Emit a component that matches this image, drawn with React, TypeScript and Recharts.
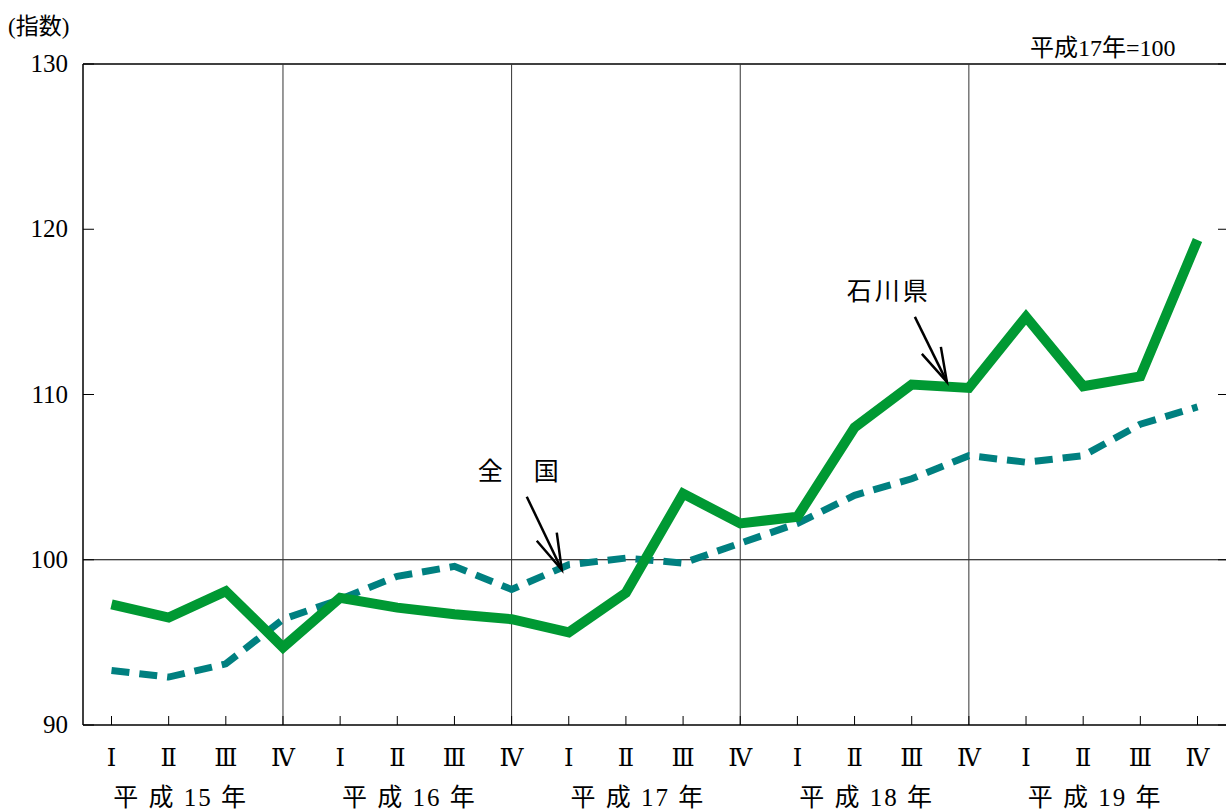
import React from "react";
import {
  LineChart,
  Line,
  XAxis,
  YAxis,
  ReferenceLine,
  ReferenceDot,
} from "recharts";

const quarters = ["Ⅰ", "Ⅱ", "Ⅲ", "Ⅳ"];
const years = ["15", "16", "17", "18", "19"];
const yTicks = [90, 100, 110, 120, 130];

// 石川県
const ishikawa = [
  97.3, 96.5, 98.1, 94.7, 97.7, 97.1, 96.7, 96.4, 95.6, 98.0,
  104.0, 102.2, 102.6, 108.0, 110.6, 110.4, 114.7, 110.5, 111.1, 119.35,
];
// 全国
const zenkoku = [
  93.3, 92.9, 93.7, 96.4, 97.6, 99.0, 99.6, 98.2, 99.7, 100.1,
  99.8, 101.0, 102.2, 103.9, 104.9, 106.3, 105.9, 106.3, 108.2, 109.25,
];

const data = years.flatMap((y, yi) =>
  quarters.map((q, qi) => ({
    key: `H${y}-${qi + 1}`,
    year: y,
    q,
    qi,
    ishikawa: ishikawa[yi * 4 + qi],
    zenkoku: zenkoku[yi * 4 + qi],
  }))
);

const W = 1226;
const H = 811;
const LEFT = 83;

const serif = "'Liberation Serif', 'DejaVu Serif', 'Noto Sans CJK JP', serif";
const cjk = "'Liberation Serif', 'Noto Sans CJK JP', sans-serif";

const QuarterTick = (props: any) => {
  const { x, y, payload } = props;
  const d = data.find((e) => e.key === payload.value);
  if (!d) return null;
  return (
    <g>
      <line x1={x} y1={y - 9} x2={x} y2={y} stroke="#000" strokeWidth={1} />
      <text x={x} y={y + 41} textAnchor="middle" fontSize={24} fontFamily={serif} fill="#000">
        {d.q}
      </text>
      {d.qi === 1 && (
        <text x={x + 12} y={y + 81} textAnchor="middle" fontSize={25} fontFamily={cjk} fill="#000" letterSpacing={2}>
          {`平 成 ${d.year} 年`}
        </text>
      )}
    </g>
  );
};

const ValueTick = (props: any) => {
  const { y, payload } = props;
  return (
    <g>
      <line x1={LEFT} y1={y} x2={LEFT + 11} y2={y} stroke="#000" strokeWidth={1} />
      <line x1={W - 8} y1={y} x2={W} y2={y} stroke="#000" strokeWidth={1} />
      <text x={LEFT - 15} y={y + 8} textAnchor="end" fontSize={25} fontFamily={serif} fill="#000">
        {payload.value}
      </text>
    </g>
  );
};

const callout = (label: string, lx: number, ly: number, tail: number[], tip: number[], h1: number[], h2: number[]) =>
  (p: any) => {
    const { cx, cy } = p;
    return (
      <g>
        <text x={cx + lx} y={cy + ly} textAnchor="middle" fontSize={25} fontFamily={cjk} fill="#000" letterSpacing={3}>
          {label}
        </text>
        <line x1={cx + tail[0]} y1={cy + tail[1]} x2={cx + tip[0]} y2={cy + tip[1]} stroke="#000" strokeWidth={2.5} />
        <polyline
          points={`${cx + h1[0]},${cy + h1[1]} ${cx + tip[0]},${cy + tip[1]} ${cx + h2[0]},${cy + h2[1]}`}
          fill="none"
          stroke="#000"
          strokeWidth={2.5}
        />
      </g>
    );
  };

export default function App() {
  return (
    <div style={{ position: "absolute", left: 0, top: 0, width: W, height: H, background: "#fff" }}>
      <LineChart width={W} height={H} data={data} margin={{ top: 64, right: 0, left: 0, bottom: 0 }}>
        <XAxis
          dataKey="key"
          height={86}
          padding={{ left: 28.5, right: 28.5 }}
          axisLine={{ stroke: "#000", strokeWidth: 1.5 }}
          tickLine={false}
          tickSize={0}
          tickMargin={0}
          interval={0}
          tick={<QuarterTick />}
        />
        <YAxis
          width={LEFT}
          domain={[90, 130]}
          ticks={yTicks}
          allowDataOverflow
          axisLine={{ stroke: "#000", strokeWidth: 1.5 }}
          tickLine={false}
          tick={<ValueTick />}
        />
        <ReferenceLine y={130} stroke="#000" strokeWidth={1.5} />
        <ReferenceLine y={100} stroke="#000" strokeWidth={1} />
        {data
          .filter((d) => d.qi === 3 && d.year !== "19")
          .map((d) => (
            <ReferenceLine key={d.key} x={d.key} stroke="#333" strokeWidth={1} />
          ))}
        <Line
          dataKey="zenkoku"
          stroke="#008080"
          strokeWidth={7}
          strokeDasharray="18 10"
          dot={false}
          isAnimationActive={false}
        />
        <Line
          dataKey="ishikawa"
          stroke="#009933"
          strokeWidth={10}
          dot={false}
          isAnimationActive={false}
        />
        <ReferenceDot
          x={data[15].key}
          y={data[15].ishikawa}
          r={0}
          shape={callout("石川県", -80, -88, [-54, -71], [-22, -6], [-28, -41], [-47, -34])}
        />
        <ReferenceDot
          x={data[8].key}
          y={data[8].zenkoku}
          r={0}
          shape={callout("全　国", -49, -85, [-42, -68], [-7, 5], [-12, -32], [-32, -24])}
        />
      </LineChart>
      <div style={{ position: "absolute", left: 8, top: 7, fontSize: 23, fontFamily: cjk, color: "#000" }}>(指数)</div>
      <div style={{ position: "absolute", left: 1030, top: 28, fontSize: 24, fontFamily: cjk, color: "#000" }}>
        平成17年=100
      </div>
    </div>
  );
}
